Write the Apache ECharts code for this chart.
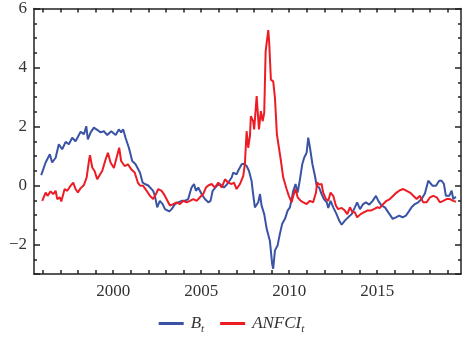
<!DOCTYPE html>
<html>
<head>
<meta charset="utf-8">
<script src="https://cdn.jsdelivr.net/npm/echarts@6/dist/echarts.min.js"></script>
<style>html,body{margin:0;padding:0;background:#fff}#c{width:463px;height:350px}</style>
</head>
<body>
<div id="c"></div>
<script>
// ---- data ----
var bYears = [1995.91,1996.16,1996.40,1996.53,1996.73,1996.91,1997.10,1997.30,1997.48,1997.67,1997.86,1998.15,1998.34,1998.47,1998.56,1998.72,1998.90,1999.13,1999.28,1999.47,1999.66,1999.89,2000.14,2000.32,2000.45,2000.57,2000.70,2000.89,2001.08,2001.27,2001.52,2001.67,2001.80,2001.99,2002.27,2002.37,2002.50,2002.65,2002.81,2002.94,2003.18,2003.32,2003.51,2003.69,2003.89,2004.07,2004.26,2004.45,2004.59,2004.70,2004.83,2005.02,2005.21,2005.40,2005.53,2005.65,2005.88,2006.06,2006.29,2006.48,2006.73,2006.82,2007.01,2007.10,2007.30,2007.43,2007.58,2007.71,2007.86,2007.95,2008.05,2008.15,2008.24,2008.34,2008.43,2008.58,2008.72,2008.81,2008.90,2009.03,2009.09,2009.19,2009.34,2009.47,2009.60,2009.76,2009.91,2010.04,2010.14,2010.23,2010.36,2010.48,2010.61,2010.74,2010.85,2010.99,2011.08,2011.18,2011.32,2011.46,2011.56,2011.70,2011.84,2011.97,2012.13,2012.22,2012.35,2012.50,2012.69,2012.84,2012.98,2013.16,2013.35,2013.55,2013.73,2013.86,2014.02,2014.20,2014.36,2014.55,2014.74,2014.93,2015.06,2015.25,2015.44,2015.63,2015.88,2016.06,2016.25,2016.44,2016.63,2016.76,2016.95,2017.14,2017.33,2017.52,2017.71,2017.90,2017.99,2018.15,2018.34,2018.52,2018.66,2018.79,2018.90,2019.09,2019.23,2019.32,2019.47];
var bValues = [0.35,0.78,1.06,0.78,0.94,1.40,1.23,1.48,1.40,1.62,1.50,1.82,1.74,2.01,1.56,1.80,1.96,1.87,1.80,1.84,1.71,1.84,1.71,1.90,1.80,1.90,1.62,1.28,0.83,0.72,0.44,0.10,0.05,0.00,-0.18,-0.35,-0.74,-0.52,-0.63,-0.80,-0.88,-0.80,-0.63,-0.57,-0.52,-0.52,-0.46,-0.07,0.05,-0.18,-0.07,-0.29,-0.46,-0.57,-0.52,-0.18,-0.01,0.05,-0.07,0.05,0.27,0.44,0.38,0.50,0.72,0.74,0.66,0.50,0.16,-0.29,-0.74,-0.80,-0.57,-0.29,-0.68,-0.97,-1.47,-1.44,-1.87,-2.65,-2.82,-2.20,-2.03,-1.64,-1.30,-1.13,-0.85,-0.74,-0.46,-0.18,0.05,-0.24,0.21,0.72,0.94,1.11,1.62,1.28,0.72,0.33,-0.01,-0.07,-0.29,-0.46,-0.57,-0.76,-0.52,-0.74,-0.97,-1.19,-1.33,-1.19,-1.08,-0.97,-0.74,-0.57,-0.80,-0.63,-0.57,-0.65,-0.52,-0.35,-0.52,-0.68,-0.74,-0.91,-1.13,-1.08,-1.02,-1.08,-1.02,-0.91,-0.74,-0.63,-0.57,-0.46,-0.27,0.16,0.21,-0.01,-0.01,0.16,0.16,0.05,-0.35,-0.35,-0.18,-0.46,-0.38];

var aYears = [1995.97,1996.16,1996.27,1996.44,1996.59,1996.73,1996.82,1996.97,1997.05,1997.24,1997.39,1997.54,1997.73,1997.86,1997.99,1998.15,1998.34,1998.49,1998.62,1998.68,1998.81,1998.94,1999.09,1999.19,1999.38,1999.57,1999.70,1999.85,2000.04,2000.19,2000.34,2000.45,2000.65,2000.84,2001.02,2001.22,2001.40,2001.52,2001.70,2001.90,2002.09,2002.27,2002.43,2002.56,2002.75,2002.88,2003.03,2003.22,2003.41,2003.60,2003.79,2003.98,2004.17,2004.36,2004.55,2004.74,2004.93,2005.11,2005.27,2005.40,2005.59,2005.78,2005.97,2006.16,2006.35,2006.53,2006.73,2006.86,2007.01,2007.20,2007.39,2007.48,2007.58,2007.67,2007.77,2007.82,2007.95,2008.01,2008.15,2008.28,2008.39,2008.49,2008.58,2008.66,2008.75,2008.81,2008.86,2008.96,2009.09,2009.19,2009.30,2009.41,2009.53,2009.66,2009.85,2009.98,2010.14,2010.23,2010.36,2010.48,2010.66,2010.80,2010.99,2011.18,2011.36,2011.52,2011.59,2011.70,2011.84,2011.93,2012.09,2012.22,2012.35,2012.50,2012.65,2012.78,2012.98,2013.16,2013.30,2013.45,2013.60,2013.73,2013.86,2014.06,2014.24,2014.43,2014.63,2014.81,2015.00,2015.15,2015.34,2015.53,2015.72,2015.91,2016.10,2016.29,2016.48,2016.67,2016.86,2017.05,2017.24,2017.43,2017.61,2017.81,2018.00,2018.18,2018.38,2018.56,2018.75,2018.94,2019.13,2019.32,2019.47];
var aValues = [-0.52,-0.24,-0.35,-0.20,-0.29,-0.18,-0.46,-0.40,-0.54,-0.12,-0.18,-0.04,0.10,-0.12,-0.24,-0.09,0.02,0.27,0.83,1.03,0.61,0.49,0.21,0.16,0.50,0.89,1.11,0.78,0.59,0.94,1.28,0.83,0.66,0.72,0.55,0.44,0.10,0.00,-0.01,-0.18,-0.35,-0.46,-0.29,-0.12,-0.18,-0.29,-0.46,-0.68,-0.63,-0.57,-0.63,-0.52,-0.57,-0.52,-0.46,-0.52,-0.40,-0.29,-0.07,0.00,0.05,-0.07,0.10,-0.07,0.21,0.10,0.05,0.10,-0.12,0.05,0.33,0.72,1.84,1.28,1.68,2.35,2.18,1.90,3.03,1.90,2.52,2.18,2.46,4.54,4.99,5.27,4.88,3.59,3.53,2.97,1.73,1.67,0.83,0.27,-0.12,-0.35,-0.57,-0.35,-0.12,-0.40,-0.52,-0.57,-0.63,-0.52,-0.57,-0.24,0.10,0.03,0.05,-0.24,-0.46,-0.52,-0.24,-0.35,-0.68,-0.80,-0.76,-0.85,-0.97,-0.74,-0.91,-0.91,-1.08,-0.97,-0.91,-0.85,-0.85,-0.80,-0.74,-0.76,-0.63,-0.52,-0.46,-0.35,-0.24,-0.16,-0.12,-0.18,-0.24,-0.35,-0.46,-0.35,-0.57,-0.57,-0.40,-0.35,-0.40,-0.57,-0.52,-0.46,-0.46,-0.52,-0.55];

var seriesNames = ['B', 'ANFCI'];
var xMajorTicks = [2000, 2005, 2010, 2015];

// ---- build ----
function pairs(xs, ys) { var out = []; for (var i = 0; i < xs.length; i++) out.push([xs[i], ys[i]]); return out; }
var xYearTicks = []; for (var yr = 1996; yr <= 2019; yr++) xYearTicks.push(yr);

var FRAME = '#222';
var XMIN = 1995.5, XMAX = 2019.76, YMIN = -3, YMAX = 6;
var serif = 'Liberation Serif';
var TICK = { color: FRAME, width: 1.5 };

function xAx(pos, labels) {
  var lab = { show: false };
  if (labels) lab = { show: true, customValues: xMajorTicks, margin: 9, color: '#333', fontFamily: serif, fontSize: 17,
    formatter: function (v) { return String(v); } };
  return {
    type: 'value', position: pos, min: XMIN, max: XMAX,
    splitLine: { show: false },
    axisLine: { show: true, onZero: false, lineStyle: { color: FRAME, width: 1.5 } },
    axisTick: { show: true, inside: true, length: 4, customValues: xYearTicks, lineStyle: TICK },
    axisLabel: lab
  };
}
function yMajor(pos, labels) {
  var lab = { show: false };
  if (labels) lab = { show: true, margin: 7, color: '#333', fontFamily: serif, fontSize: 17,
    formatter: function (v) { return v === YMIN ? '' : (v < 0 ? '\u2212' + (-v) : String(v)); } };
  return {
    type: 'value', position: pos, min: YMIN, max: YMAX, splitNumber: 4,
    splitLine: { show: false },
    axisLine: { show: true, onZero: false, lineStyle: { color: FRAME, width: 1.5 } },
    axisTick: { show: true, inside: true, length: 6, lineStyle: TICK },
    axisLabel: lab
  };
}
function yMinor(pos) {
  return {
    type: 'value', position: pos, min: YMIN, max: YMAX, interval: 0.5,
    splitLine: { show: false },
    axisLine: { show: false, onZero: false },
    axisTick: { show: true, inside: true, length: 3, lineStyle: TICK },
    axisLabel: { show: false }
  };
}

var chart = echarts.init(document.getElementById('c'));
chart.setOption({
  animation: false,
  backgroundColor: '#fff',
  grid: { left: 34, right: 2, top: 7, bottom: 76 },
  xAxis: [ xAx('bottom', true), xAx('top', false) ],
  yAxis: [ yMajor('left', true), yMinor('left'), yMajor('right', false), yMinor('right') ],
  legend: {
    left: 'center', top: 310, itemWidth: 25, itemHeight: 3, itemGap: 16, icon: 'rect',
    data: seriesNames,
    formatter: function (n) { return '{i|' + n + '}{s|t}'; },
    textStyle: {
      padding: [0, 0, 0, 2],
      rich: {
        i: { fontFamily: serif, fontStyle: 'italic', fontSize: 17, color: '#333', lineHeight: 22, verticalAlign: 'middle' },
        s: { fontFamily: serif, fontStyle: 'italic', fontSize: 11, color: '#333', lineHeight: 22, verticalAlign: 'bottom', padding: [8, 0, 0, 0] }
      }
    }
  },
  series: [
    { name: seriesNames[0], type: 'line', xAxisIndex: 0, yAxisIndex: 0, data: pairs(bYears, bValues), showSymbol: false, symbol: 'none',
      lineStyle: { color: '#3a53a4', width: 2 }, itemStyle: { color: '#3a53a4' } },
    { name: seriesNames[1], type: 'line', xAxisIndex: 0, yAxisIndex: 0, data: pairs(aYears, aValues), showSymbol: false, symbol: 'none',
      lineStyle: { color: '#ed1c24', width: 2 }, itemStyle: { color: '#ed1c24' } }
  ]
});
</script>
</body>
</html>
